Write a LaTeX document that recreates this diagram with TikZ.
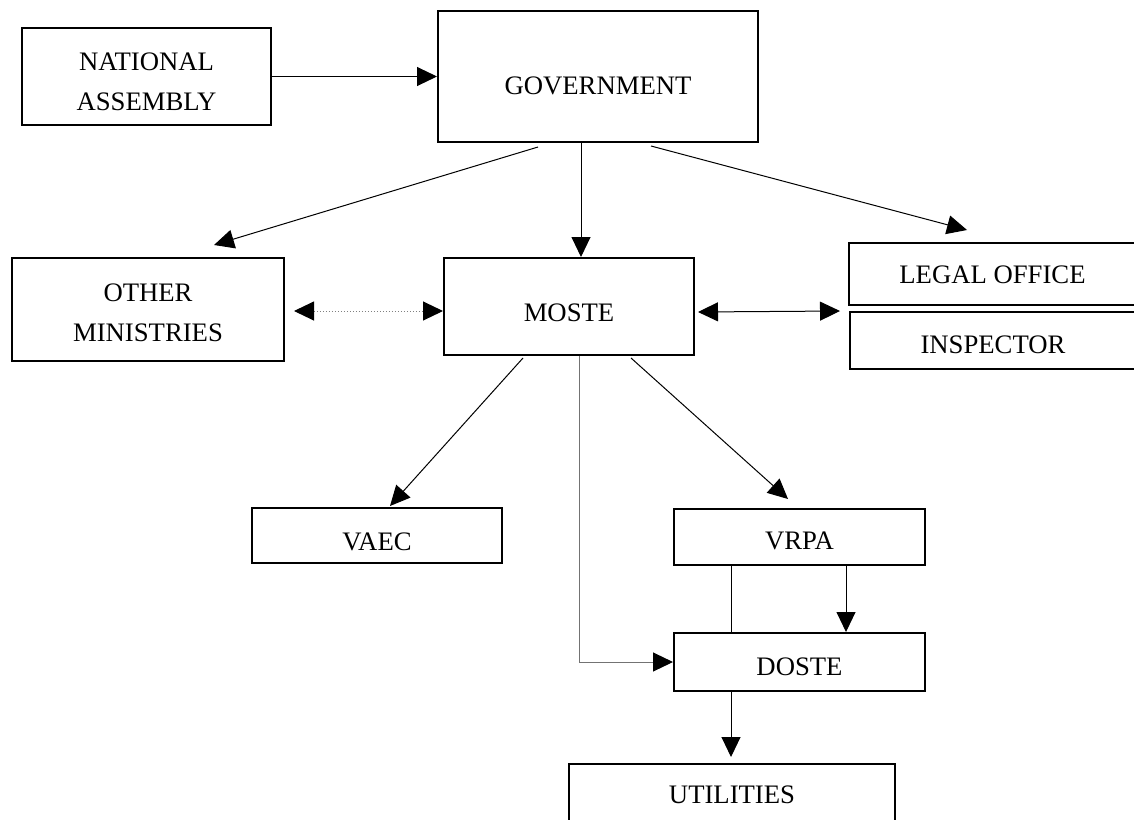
\documentclass[tikz,border=0pt]{standalone}
\usepackage{fontspec}
\setmainfont{Liberation Serif}
\usetikzlibrary{arrows.meta,calc}
\begin{document}
\begin{tikzpicture}[x=0.5pt,y=-0.5pt,
  boxwh/.style 2 args={draw=black, line width=1pt, inner sep=0pt,
    minimum width=#1*0.5pt, minimum height=#2*0.5pt},
  lbl/.style={inner sep=0pt, align=center, font=\fontsize{13.35}{20}\selectfont},
  conn/.style={line width=0.5pt, draw=black},
  tip/.style={-{Triangle[length=10pt,width=9.5pt,color=black]}},
  tips/.style={{Triangle[length=10pt,width=9.5pt,color=black]}-{Triangle[length=10pt,width=9.5pt,color=black]}},
  grayline/.style={line width=0.5pt, draw=black!55}]
\useasboundingbox (0,0) rectangle (1134,819);

% boxes
\node[boxwh={249}{97}] (na) at (146.5,76.5) {};
\node[boxwh={320}{131}] (gov) at (598,76.5) {};
\node[boxwh={272}{103}] (om) at (148,309.5) {};
\node[boxwh={250}{97}] (moste) at (569,306.5) {};
\node[boxwh={287}{62}] (legal) at (992.5,274) {};
\node[boxwh={286}{57}] (insp) at (993,340.5) {};
\node[boxwh={250}{55}] (vaec) at (377,535.5) {};
\node[boxwh={251}{56}] (vrpa) at (799.5,537) {};
\node[boxwh={251}{58}] (doste) at (799.5,662) {};
\node[boxwh={326}{62}] (util) at (732,795) {};

% labels
\node[lbl] (naT) at ($(na)+(0,5)$) {NATIONAL\\ASSEMBLY};
\node[lbl] (govT) at ($(gov)+(0,9)$) {GOVERNMENT};
\node[lbl] (omT) at ($(om)+(0,3)$) {OTHER\\MINISTRIES};
\node[lbl] (mosteT) at ($(moste)+(0,6)$) {MOSTE};
\node[lbl] (legalT) at ($(legal)+(0,1)$) {LEGAL OFFICE};
\node[lbl] (inspT) at ($(insp)+(0,4.5)$) {INSPECTOR};
\node[lbl] (vaecT) at ($(vaec)+(0,6)$) {VAEC};
\node[lbl] (vrpaT) at ($(vrpa)+(0,4)$) {VRPA};
\node[lbl] (dosteT) at ($(doste)+(0,5)$) {DOSTE};
\node[lbl] (utilT) at (util) {UTILITIES};

% connectors
\draw[conn,tip] (na.east) -- (gov.west);
\draw[conn,tip] ($(gov.south west)+(101,4)$) -- ($(om.north west)+(203,-12)$);
\draw[conn,tip] ($(gov.south)+(-17,0)$) -- ($(moste.north)+(12,0)$);
\draw[conn,tip] ($(gov.south west)+(214,3)$) -- ($(legal.north west)+(119,-12)$);
\draw[line width=0.5pt, draw=black!50, densely dotted, tips] ($(om.east)+(9,1.5)$) -- ($(moste.west)+(0,4.5)$);
\draw[conn,tips] ($(moste.east)+(3,5.5)$) -- ($(insp.north west)+(-9,0)$);
\draw[conn,tip] ($(moste.south west)+(80,2)$) -- ($(vaec.north west)+(139,-1)$);
\draw[grayline,tip] ($(moste.south)+(10,0)$) |- (doste.west);
\draw[conn,tip] ($(moste.south west)+(188,2)$) -- ($(vrpa.north west)+(115,-9)$);
\draw[conn] ($(vrpa.south west)+(58,0)$) -- ($(doste.north west)+(58,0)$);
\draw[conn,tip] ($(vrpa.south west)+(173,0)$) -- ($(doste.north west)+(173,0)$);
\draw[conn,tip] ($(doste.south west)+(58,0)$) -- ($(util.north west)+(163,-6)$);
\end{tikzpicture}
\end{document}
